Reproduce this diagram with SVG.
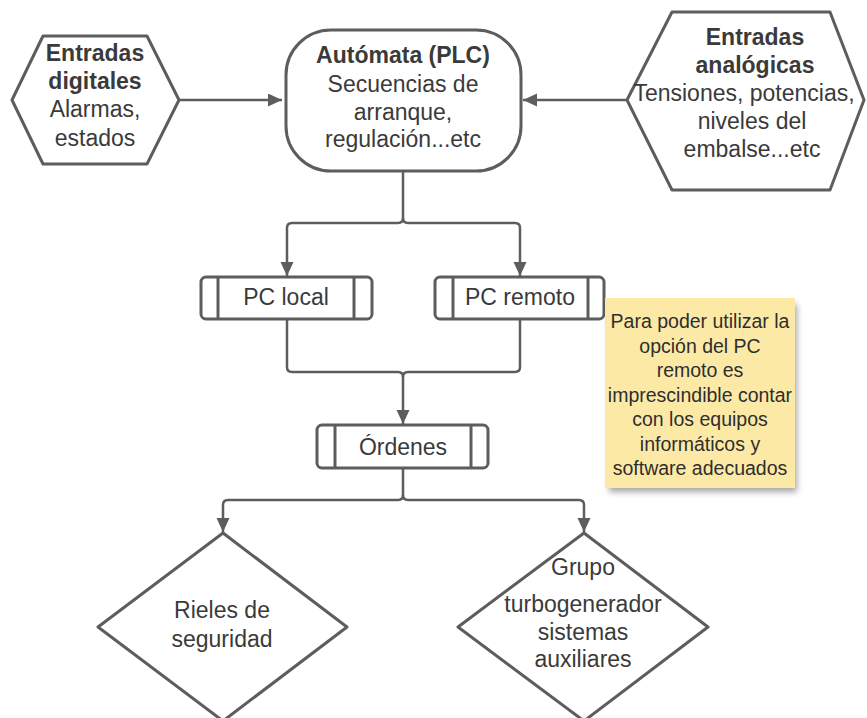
<svg xmlns="http://www.w3.org/2000/svg" width="867" height="718" viewBox="0 0 867 718">
<style>
.shape{fill:#ffffff;stroke:#5d5d5d;stroke-width:3;stroke-linejoin:round}
.conn{fill:none;stroke:#5d5d5d;stroke-width:2.5;stroke-linejoin:round}
.t{font-family:"Liberation Sans",Arial,sans-serif;font-size:23px;fill:#3a3a3a;text-anchor:middle}
.b{font-weight:bold}
.n{font-family:"Liberation Sans",Arial,sans-serif;font-size:19.5px;fill:#2e2e2e;text-anchor:middle}
</style>
<defs>
<marker id="arr" markerWidth="16" markerHeight="14" refX="14" refY="6.5" orient="auto" markerUnits="userSpaceOnUse">
<path d="M0,0 L14,6.5 L0,13 Z" fill="#5d5d5d"/>
</marker>
<filter id="sh" x="-10%" y="-10%" width="120%" height="130%">
<feGaussianBlur stdDeviation="3"/>
</filter>
</defs>

<g id="connectors">
<path class="conn" d="M179,100 H282" marker-end="url(#arr)"/>
<path class="conn" d="M627,100 H523" marker-end="url(#arr)"/>
<path class="conn" d="M403,171 V218 Q403,223 398,223 H292 Q287,223 287,228 V276" marker-end="url(#arr)"/>
<path class="conn" d="M403,218 Q403,223 408,223 H515 Q520,223 520,228 V276" marker-end="url(#arr)"/>
<path class="conn" d="M287,319 V367 Q287,372 292,372 H398 Q403,372 403,377 V424" marker-end="url(#arr)"/>
<path class="conn" d="M520,319 V367 Q520,372 515,372 H408 Q403,372 403,377"/>
<path class="conn" d="M403,468 V495 Q403,500 398,500 H228 Q223,500 223,505 V532" marker-end="url(#arr)"/>
<path class="conn" d="M403,495 Q403,500 408,500 H579 Q584,500 584,505 V532" marker-end="url(#arr)"/>
</g>

<g id="entradas-digitales">
<path class="shape" d="M12,100 L43,36 H147 L179,100 L147,164 H43 Z"/>
<text class="t b" x="95" y="61">Entradas</text>
<text class="t b" x="95" y="89">digitales</text>
<text class="t" x="95" y="117">Alarmas,</text>
<text class="t" x="95" y="146">estados</text>
</g>

<g id="automata">
<rect class="shape" x="286" y="30" width="235" height="141" rx="45" ry="45"/>
<text class="t b" x="403" y="63">Autómata (PLC)</text>
<text class="t" x="403" y="92">Secuencias de</text>
<text class="t" x="403" y="120">arranque,</text>
<text class="t" x="403" y="147">regulación...etc</text>
</g>

<g id="entradas-analogicas">
<path class="shape" d="M627,100 L672,12 H830 L864,100 L830,190 H672 Z"/>
<text class="t b" x="755" y="45">Entradas</text>
<text class="t b" x="755" y="73">analógicas</text>
<text class="t" x="744" y="101">Tensiones, potencias,</text>
<text class="t" x="752" y="129">niveles del</text>
<text class="t" x="752" y="157">embalse...etc</text>
</g>

<g id="pc-local">
<rect class="shape" x="201" y="277" width="171" height="42" rx="5"/>
<line class="shape" x1="218" y1="277" x2="218" y2="319"/>
<line class="shape" x1="354" y1="277" x2="354" y2="319"/>
<text class="t" x="286" y="305">PC local</text>
</g>

<g id="pc-remoto">
<rect class="shape" x="435" y="277" width="169" height="42" rx="5"/>
<line class="shape" x1="453" y1="277" x2="453" y2="319"/>
<line class="shape" x1="588" y1="277" x2="588" y2="319"/>
<text class="t" x="520" y="305">PC remoto</text>
</g>

<g id="nota">
<rect x="609" y="304" width="188" height="188" fill="#000" opacity="0.35" filter="url(#sh)"/>
<rect x="605" y="298" width="190" height="190" fill="#fde9a6"/>
<text class="n" x="700" y="328">Para poder utilizar la</text>
<text class="n" x="700" y="352.5">opción del PC</text>
<text class="n" x="700" y="377">remoto es</text>
<text class="n" x="700" y="401.5">imprescindible contar</text>
<text class="n" x="700" y="426">con los equipos</text>
<text class="n" x="700" y="450.5">informáticos y</text>
<text class="n" x="700" y="475">software adecuados</text>
</g>

<g id="ordenes">
<rect class="shape" x="317" y="425" width="171" height="43" rx="5"/>
<line class="shape" x1="335" y1="425" x2="335" y2="468"/>
<line class="shape" x1="471" y1="425" x2="471" y2="468"/>
<text class="t" x="403" y="455">Órdenes</text>
</g>

<g id="rieles">
<path class="shape" d="M223,533 L347,627 L223,721 L98,627 Z"/>
<text class="t" x="222" y="618">Rieles de</text>
<text class="t" x="222" y="647">seguridad</text>
</g>

<g id="grupo">
<path class="shape" d="M584,533 L708,627 L584,721 L458,627 Z"/>
<text class="t" x="583" y="575">Grupo</text>
<text class="t" x="583" y="612">turbogenerador</text>
<text class="t" x="583" y="640">sistemas</text>
<text class="t" x="583" y="667">auxiliares</text>
</g>
</svg>
